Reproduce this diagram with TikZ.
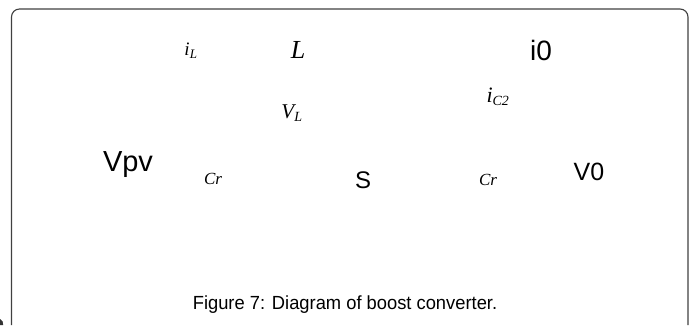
\documentclass[tikz,border=0pt]{standalone}
\usepackage{fontspec}
\setmainfont{Liberation Serif}
\setsansfont{Liberation Sans}
\begin{document}
\begin{tikzpicture}[x=1pt,y=-1pt,
  sanslbl/.style={inner sep=0pt, font=\sffamily\fontsize{#1}{#1}\selectfont},
  serlbl/.style={inner sep=0pt, font=\itshape\fontsize{#1}{#1}\selectfont},
  frame/.style={rounded corners=8pt, line width=1.1pt, draw=black!75}]
\useasboundingbox (0,0) rectangle (696,325);
\draw[frame] (11.5,325) -- (11.5,9) -- (688,9) -- (688,325);
\fill[black!80] (0,319) .. controls (2.5,320) and (3.2,322) .. (3.2,325) -- (0,325) -- cycle;
% labels
\node[serlbl=19] (il) at (191,51) {i\textsubscript{\fontsize{13}{13}\selectfont L}};
\node[serlbl=26] (L) at (298,50) {L};
\node[sanslbl=28] (io) at (541,50) {i0};
\node[serlbl=21] (vl) at (292,113) {V\textsubscript{\fontsize{14}{14}\selectfont L}};
\node[serlbl=22] (ic2) at (498,97) {i\textsubscript{\fontsize{14}{14}\selectfont C2}};
\node[sanslbl=29] (vpv) at (128,165) {Vpv};
\node[serlbl=17] (cr1) at (213,179) {Cr};
\node[sanslbl=24] (s) at (363,180) {S};
\node[serlbl=17] (cr2) at (488,180) {Cr};
\node[sanslbl=25] (vo) at (589,172) {V0};
\node[sanslbl=19, xscale=0.965] (cap) at (345,305) {Figure 7: Diagram of boost converter.};
\end{tikzpicture}
\end{document}
